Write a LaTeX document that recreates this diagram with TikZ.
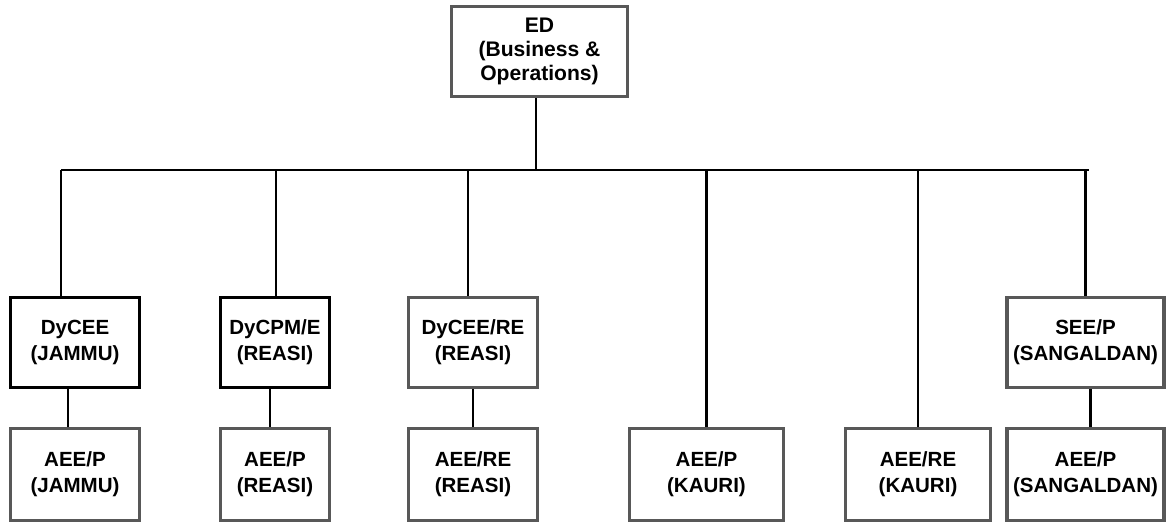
\documentclass[tikz,border=0pt]{standalone}
\usepackage{fontspec}
\setmainfont{Liberation Sans}
\usepackage{tikz}
\usetikzlibrary{calc}
\definecolor{boxgray}{RGB}{88,88,88}
\tikzset{
  unit/.style={align=center, font=\fontsize{14.6}{18.4}\selectfont\bfseries, inner sep=0pt},
  graybox/.style={unit, draw=boxgray, line width=2.3pt},
  blackbox/.style={unit, draw=black, line width=2.4pt},
  link/.style={line width=1.5pt}
}

\begin{document}
\begin{tikzpicture}[x=0.025cm, y=0.025cm]
            \useasboundingbox (0,0) rectangle (1167,-525);
            \node[graybox, minimum width=4.4cm, minimum height=2.25cm, font=\fontsize{15}{17}\selectfont\bfseries] (ed) at (539.5,-51.5) {ED\\(Business \&\\Operations)};
            % second row
            \node[blackbox, minimum width=3.225cm, minimum height=2.25cm] (dycee) at (75,-342.5) {DyCEE\\(JAMMU)};
            \node[blackbox, minimum width=2.725cm, minimum height=2.25cm] (dycpm) at (275,-342.5) {DyCPM/E\\(REASI)};
            \node[graybox, minimum width=3.225cm, minimum height=2.25cm] (dyceere) at (473,-342.5) {DyCEE/RE\\(REASI)};
            \node[graybox, minimum width=3.925cm, minimum height=2.25cm] (seep) at (1085.5,-342.5) {SEE/P\\(SANGALDAN)};
            % third row
            \node[graybox, minimum width=3.225cm, minimum height=2.3cm] (aeepj) at (75,-474.5) {AEE/P\\(JAMMU)};
            \node[graybox, minimum width=2.725cm, minimum height=2.3cm] (aeepr) at (275,-474.5) {AEE/P\\(REASI)};
            \node[graybox, minimum width=3.225cm, minimum height=2.3cm] (aeerer) at (473,-474.5) {AEE/RE\\(REASI)};
            \node[graybox, minimum width=3.85cm, minimum height=2.3cm] (aeepk) at (706.5,-474.5) {AEE/P\\(KAURI)};
            \node[graybox, minimum width=3.625cm, minimum height=2.3cm] (aeerek) at (918,-474.5) {AEE/RE\\(KAURI)};
            \node[graybox, minimum width=3.925cm, minimum height=2.3cm] (aeeps) at (1085.5,-474.5) {AEE/P\\(SANGALDAN)};
            % bus
            \coordinate (busL) at (61,-170);
            \coordinate (busR) at (1089,-170);
            \draw[link] (busL) -- (busR);
            \draw[link] ([xshift=-0.09cm]ed.south) -- ([xshift=-0.09cm]ed.south |- busL);
            \draw[link] (dycee.north -| busL) -- (busL);
            \draw[link] ([xshift=0.025cm]dycpm.north) -- ([xshift=0.025cm]dycpm.north |- busL);
            \draw[link] ([xshift=-0.125cm]dyceere.north) -- ([xshift=-0.125cm]dyceere.north |- busL);
            \draw[link] (aeepk.north) -- (aeepk.north |- busL);
            \draw[link] (aeerek.north) -- (aeerek.north |- busL);
            \draw[link] (seep.north) -- (seep.north |- busL);
            % links between rows
            \draw[link] ([xshift=-0.175cm]dycee.south) -- ([xshift=-0.175cm]aeepj.north);
            \draw[link] ([xshift=-0.125cm]dycpm.south) -- ([xshift=-0.125cm]aeepr.north);
            \draw[link] (dyceere.south) -- (aeerer.north);
            \draw[link] ([xshift=0.125cm]seep.south) -- ([xshift=0.125cm]aeeps.north);
        \end{tikzpicture}
\end{document}
